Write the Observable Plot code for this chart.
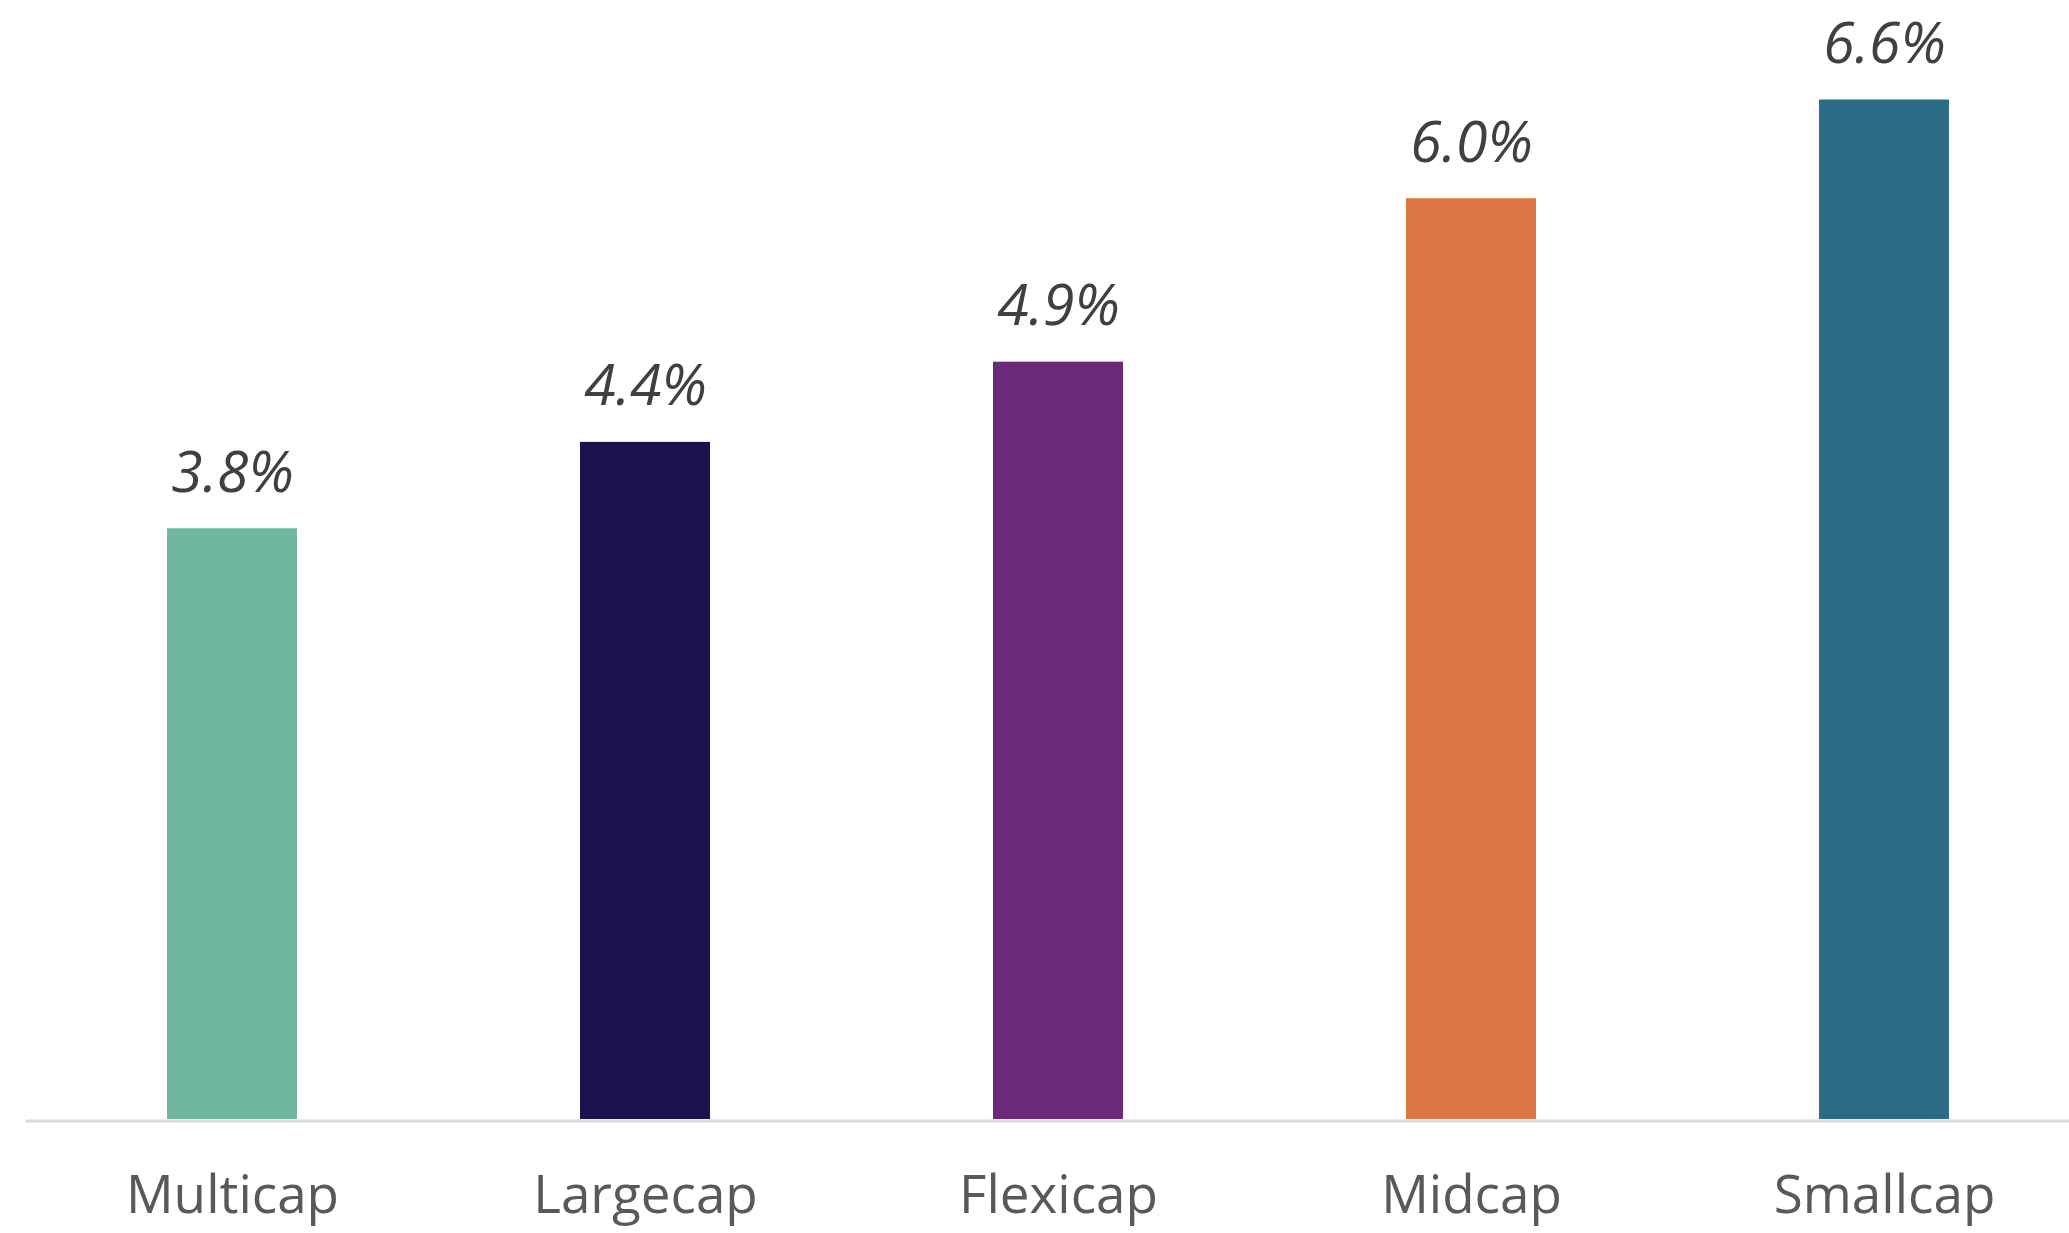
<!DOCTYPE html>
<html>
<head>
<meta charset="utf-8">
<script src="https://cdn.jsdelivr.net/npm/d3@7"></script>
<script src="https://cdn.jsdelivr.net/npm/@observablehq/plot@0.6"></script>
<style>
  html, body { margin: 0; padding: 0; background: #ffffff; }
  #chart { width: 2069px; height: 1233px; overflow: hidden; }
</style>
</head>
<body>
<div id="chart"></div>
<script>
const categories = ["Multicap", "Largecap", "Flexicap", "Midcap", "Smallcap"];
const values = [3.83, 4.39, 4.91, 5.97, 6.61];
const colors = ["#6FB7A0", "#1E1150", "#6D2979", "#DC7743", "#2C6B86"];

const data = categories.map((c, i) => ({category: c, value: values[i]}));

const chart = Plot.plot({
  width: 2069,
  height: 1233,
  marginTop: 0,
  marginBottom: 114,
  marginLeft: 26,
  marginRight: 0,
  style: {fontFamily: "'Open Sans', sans-serif", background: "#ffffff", color: "#595959", overflow: "visible"},
  x: {domain: categories, range: [24.3, 2091.3], paddingInner: 0.6855, paddingOuter: 0.3428, label: null},
  y: {domain: [0, 7.255], axis: null},
  color: {domain: categories, range: colors},
  marks: [
    Plot.barY(data, {x: "category", y: "value", fill: "category"}),
    Plot.ruleY([0], {stroke: "#d9d9d9", strokeWidth: 3, dy: 1.5}),
    Plot.text(data, {
      x: "category", y: "value",
      text: d => d3.format(".1f")(d.value) + "%",
      dy: -37, lineAnchor: "bottom",
      fontSize: 57, fontStyle: "italic", fill: "#404040",
      fontFamily: "'Open Sans', sans-serif"
    }),
    Plot.axisX({tickSize: 0, tickPadding: 56, fontSize: 53, label: null, fill: "#595959"})
  ]
});
document.getElementById("chart").appendChild(chart);
</script>
</body>
</html>
